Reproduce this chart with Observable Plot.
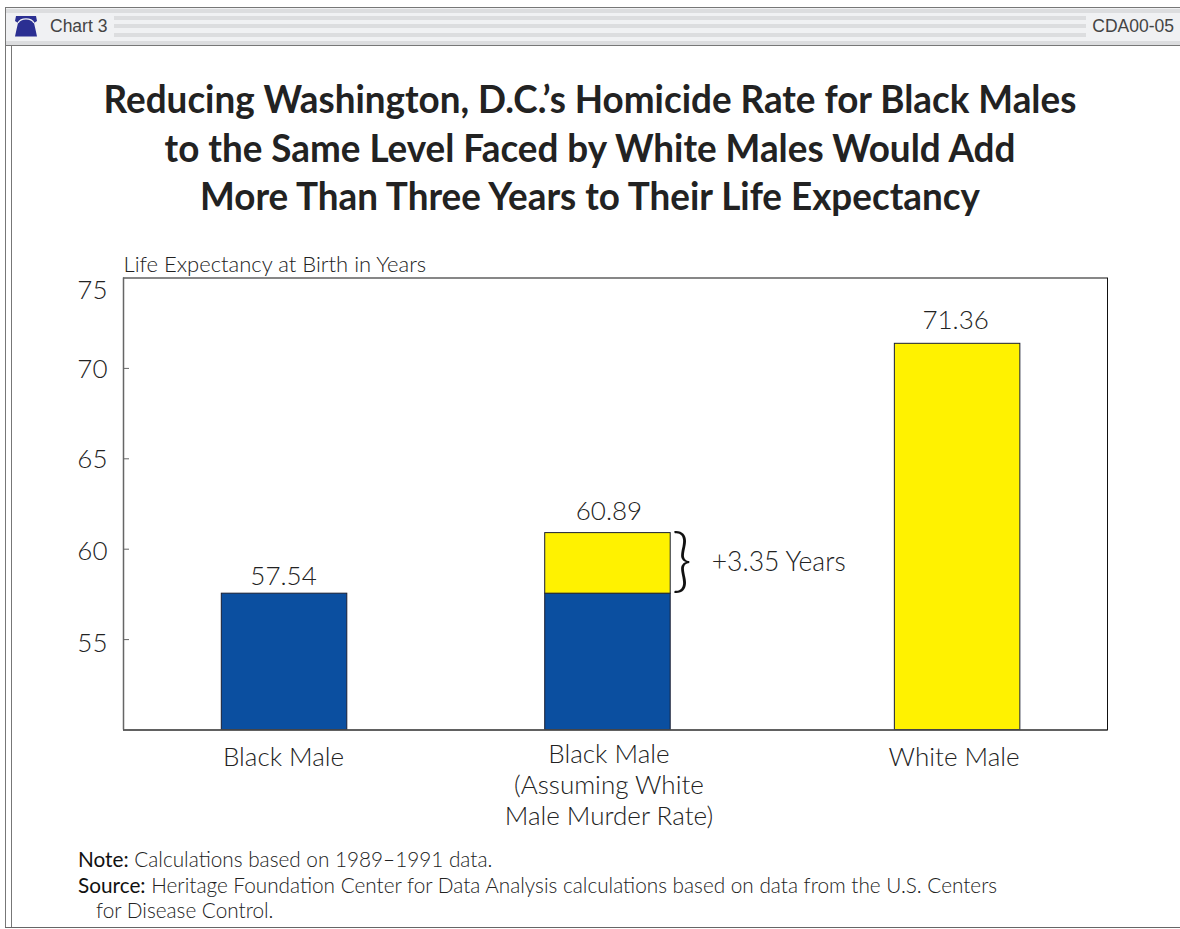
<!DOCTYPE html>
<html>
<head>
<meta charset="utf-8">
<script src="https://cdn.jsdelivr.net/npm/d3@7"></script>
<script src="https://cdn.jsdelivr.net/npm/@observablehq/plot@0.6"></script>
<style>
  html, body { margin: 0; padding: 0; background: #fff; width: 1180px; height: 929px; overflow: hidden; }
  #page { position: relative; width: 1180px; height: 929px; font-family: Lato, sans-serif; color: #222; }
  #page > * { position: absolute; }
  .band { left: 5px; right: 0; top: 7px; height: 39px; background: #f0f1f3; border-top: 1.5px solid #777; border-bottom: 1.5px solid #777; box-sizing: border-box; }
  .band-edge { left: 6px; right: 0; height: 4px; background: #dcdddf; }
  .stripe { left: 114px; width: 972px; height: 3.5px; background: #dcdddf; }
  .rail { top: 7px; bottom: 1px; width: 1px; background: #777; }
  .foot { left: 5px; right: 0; top: 926.5px; height: 1.5px; background: #666; }
  .tag { top: 16px; font: 17.5px/20px "Liberation Sans", sans-serif; color: #444; }
  h1 { left: 0; width: 1180px; top: 74px; margin: 0; text-align: center; font: 700 39px/48.5px Lato, sans-serif; color: #222; transform: scaleX(0.944); }
  .note { left: 78px; font: 300 20.76px/24px Lato, sans-serif; color: #222; white-space: pre; }
  .note b { font-weight: 400; color: #111; }
  #chart { left: 0; top: 240px; }
</style>
</head>
<body>
<div id="page">
  <div class="band"></div>
  <div class="band-edge" style="top:9px"></div>
  <div class="band-edge" style="top:41px"></div>
  <div class="stripe" style="top:16px"></div>
  <div class="stripe" style="top:24px"></div>
  <div class="stripe" style="top:33px"></div>
  <div class="rail" style="left:5px"></div>
  <div class="rail" style="left:11px;top:46px"></div>
  <div class="foot"></div>
  <svg style="left:15px;top:16px" width="22" height="21" viewBox="0 0 22 21">
    <path fill="#2b2f92" d="M1 0H21L22 5L19 7C20 11 21 16 22 20.5H0C1 16 2 11 3 7L0 5Z"/>
    <path fill="none" stroke="#f0f1f3" stroke-width="1.4" d="M3 7C6 1.5 16 1.5 19 7"/>
  </svg>
  <div class="tag" style="left:50px">Chart 3</div>
  <div class="tag" style="right:6px">CDA00-05</div>
  <h1>Reducing Washington, D.C.’s Homicide Rate for Black Males<br>to the Same Level Faced by White Males Would Add<br>More Than Three Years to Their Life Expectancy</h1>
  <div id="chart"></div>
  <div class="note" style="top:847px"><b>Note:</b> Calculations based on 1989–1991 data.</div>
  <div class="note" style="top:873px"><b>Source:</b> Heritage Foundation Center for Data Analysis calculations based on data from the U.S. Centers</div>
  <div class="note" style="top:898px;left:96px">for Disease Control.</div>
</div>
<script>
// Life expectancy at birth, District of Columbia, 1989-1991
const categories = ["Black Male", "Black Male\n(Assuming White\nMale Murder Rate)", "White Male"];
const baseYears = [57.54, 57.54, 0];
const addedYears = [0, 3.35, 71.36];
const totalLabels = ["57.54", "60.89", "71.36"];
const yLabels = [55, 60, 65, 70, 75];

// Horizontal layout, in bar-slot units, and the spacing of each bar's labels
const slots = [0.491, 1.477, 2.543];
const slotWidth = 0.3826;
const valueGaps = [9, 13, 15];
const valueNudges = [-1, 1, -2];
const labelNudges = [4, 2, 1, 1, 13];
const nameNudges = [-1, 1, -3.5];

const blue = "#0b4fa0";
const yellow = "#fff200";
const ink = "#222";
const edge = "#1a1f33";
const fs = 26;

const rows = categories.map((name, i) => ({
  name,
  slot: slots[i],
  base: baseYears[i],
  added: addedYears[i],
  total: +totalLabels[i],
  label: totalLabels[i],
  gap: valueGaps[i],
  valueNudge: valueNudges[i],
  nudge: nameNudges[i]
}));

const left = d => d.slot - slotWidth / 2;
const right = d => d.slot + slotWidth / 2;
const gain = rows.slice(1, 2);
const light = { fontSize: fs, fontWeight: 300, fill: ink };

const chart = Plot.plot({
  width: 1180,
  height: 600,
  marginLeft: 123,
  marginRight: 73,
  marginTop: 37.5,
  marginBottom: 110.5,
  style: { fontFamily: "Lato, sans-serif", background: "transparent", overflow: "visible" },
  x: { domain: [0, 3], axis: null },
  y: { domain: [50, 75], axis: null },
  marks: [
    Plot.rectY(rows.filter(d => d.base > 0), {
      x1: left, x2: right, y1: () => 50, y2: "base", fill: blue, stroke: edge
    }),
    // Added years stack on the base segment; the third bar has only this one
    Plot.rectY(rows.filter(d => d.added > 0), {
      x1: left, x2: right, y1: d => d.base || 50, y2: d => d.base + d.added, fill: yellow, stroke: edge
    }),
    Plot.frame({ stroke: "#111", strokeWidth: 1 }),
    Plot.ruleX([0], { stroke: "#666", strokeWidth: 1.5 }),
    Plot.ruleY([50], { stroke: "#555", strokeWidth: 1.5 }),
    Plot.ruleY([50, 55, 60, 65, 70], { stroke: "#666", insetRight: 978 }),
    ...yLabels.map((v, i) => Plot.axisY([v], {
      tickSize: 0, tickPadding: 16, label: null, ...light, dy: labelNudges[i]
    })),
    Plot.text(["Life Expectancy at Birth in Years"], {
      frameAnchor: "top-left", lineAnchor: "bottom", dy: -6, fontSize: 22, fontWeight: 300, fill: ink
    }),
    ...rows.map(d => Plot.text([d], {
      x: "slot", y: "total", text: "label", lineAnchor: "bottom", dy: -d.gap, dx: d.valueNudge, ...light
    })),
    Plot.text(gain, {
      x: right, y: d => d.base + d.added / 2, text: () => "}",
      textAnchor: "start", dx: 1, dy: -1, fontSize: 69, fontWeight: 300, fill: "#111"
    }),
    Plot.text(gain, {
      x: right, y: d => d.base + d.added / 2, text: d => `+${d.added} Years`,
      textAnchor: "start", dx: 41, dy: -1, ...light, fontSize: 26.5
    }),
    ...rows.map(d => Plot.text([d], {
      x: "slot", y: () => 50, text: "name", lineHeight: 1.19, ...light,
      lineAnchor: d.name.includes("\n") ? "top" : "middle",
      dy: d.name.includes("\n") ? 11 : 26,
      dx: d.nudge
    }))
  ]
});
document.getElementById("chart").append(chart);
</script>
</body>
</html>
